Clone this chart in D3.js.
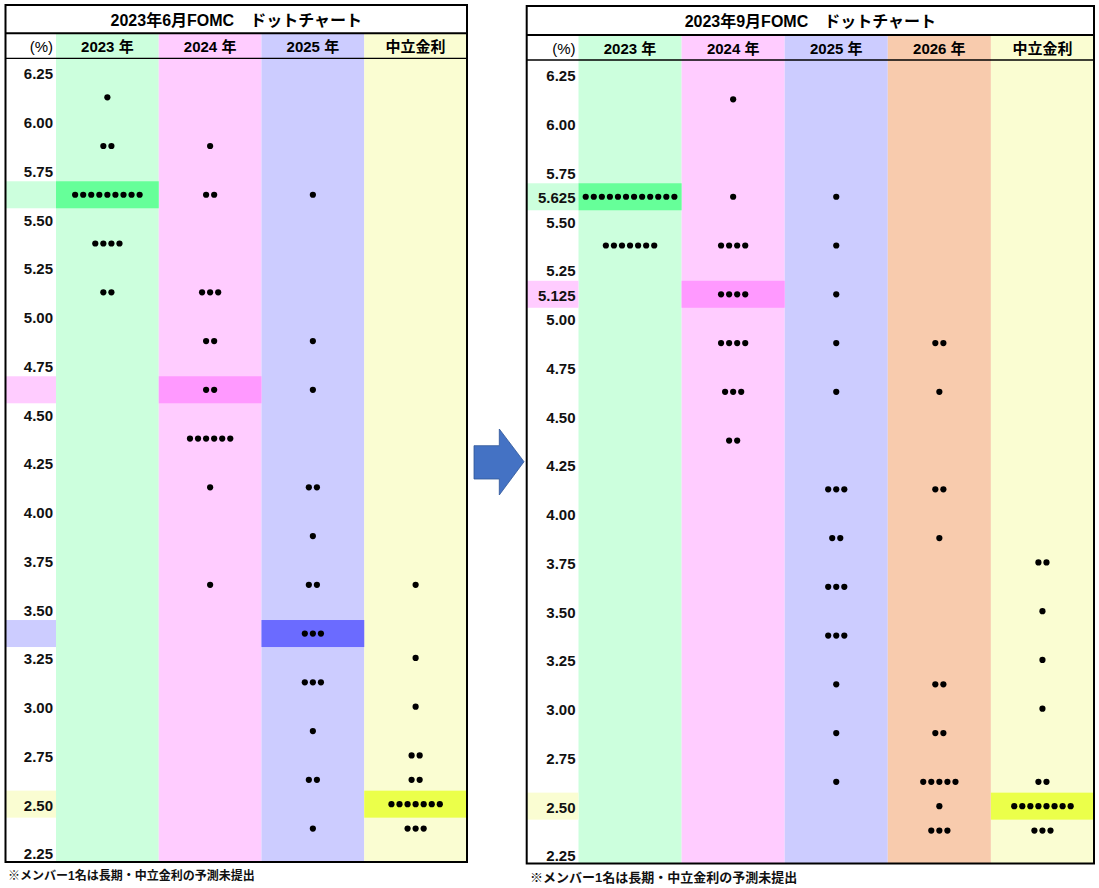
<!DOCTYPE html>
<html><head><meta charset="utf-8">
<script src="https://cdn.jsdelivr.net/npm/d3@7"></script>
<style>body{margin:0;background:#fff}svg{display:block}</style>
</head><body>
<svg id="c" width="1099" height="888"></svg>
<script>
// ---------- data ----------
const junTitle = "2023年6月FOMC\u3000ドットチャート";
const sepTitle = "2023年9月FOMC\u3000ドットチャート";
const footnote = "※メンバー1名は長期・中立金利の予測未提出";
const unitLabel = "(%)";
const tickValues = [6.25, 6.00, 5.75, 5.50, 5.25, 5.00, 4.75, 4.50, 4.25, 4.00, 3.75, 3.50, 3.25, 3.00, 2.75, 2.50, 2.25];

const junCats = ["2023 年", "2024 年", "2025 年", "中立金利"];
const jun2023 = [[6.125,1],[5.875,2],[5.625,9],[5.375,4],[5.125,2]];
const jun2024 = [[5.875,1],[5.625,2],[5.125,3],[4.875,2],[4.625,2],[4.375,6],[4.125,1],[3.625,1]];
const jun2025 = [[5.625,1],[4.875,1],[4.625,1],[4.125,2],[3.875,1],[3.625,2],[3.375,3],[3.125,3],[2.875,1],[2.625,2],[2.375,1]];
const junNeutral = [[3.625,1],[3.25,1],[3.0,1],[2.75,2],[2.625,2],[2.5,7],[2.375,3]];
const junMedians = [5.625, 4.625, 3.375, 2.5];
const junMedianLabels = [];

const sepCats = ["2023 年", "2024 年", "2025 年", "2026 年", "中立金利"];
const sep2023 = [[5.625,12],[5.375,7]];
const sep2024 = [[6.125,1],[5.625,1],[5.375,4],[5.125,4],[4.875,4],[4.625,3],[4.375,2]];
const sep2025 = [[5.625,1],[5.375,1],[5.125,1],[4.875,1],[4.625,1],[4.125,3],[3.875,2],[3.625,3],[3.375,3],[3.125,1],[2.875,1],[2.625,1]];
const sep2026 = [[4.875,2],[4.625,1],[4.125,2],[3.875,1],[3.125,2],[2.875,2],[2.625,5],[2.5,1],[2.375,3]];
const sepNeutral = [[3.75,2],[3.5,1],[3.25,1],[3.0,1],[2.625,2],[2.5,8],[2.375,3]];
const sepMedians = [5.625, 5.125, null, null, 2.5];
const sepMedianLabels = [5.625, 5.125];

// ---------- styles ----------
const palette = {
  "2023 年": {bg: "#CCFFDD", hi: "#66FF99"},
  "2024 年": {bg: "#FFCCFF", hi: "#FF99FF"},
  "2025 年": {bg: "#CCCCFF", hi: "#6B6BFF"},
  "2026 年": {bg: "#F8CBAD", hi: "#F4A070"},
  "中立金利": {bg: "#FAFDD2", hi: "#EBFF4A"}
};
const FONT = "'Liberation Sans','Noto Sans CJK JP',sans-serif";
const svg = d3.select("#c");

function drawPanel(p) {
  const g = svg.append("g");
  const x = d3.scaleBand().domain(p.cats).range([p.x0 + p.labelW, p.x1]).padding(0);
  const y = d3.scaleLinear().domain([6.25, 2.25]).range(p.yRange);
  const bw = x.bandwidth();
  const bandH = 27;

  // column backgrounds (header + body)
  g.selectAll("rect.col").data(p.cats).join("rect")
    .attr("x", d => x(d)).attr("y", p.ySep).attr("width", bw).attr("height", p.yBot - p.ySep)
    .attr("fill", d => palette[d].bg);

  // highlight bands (medians)
  p.cats.forEach((c, i) => {
    const m = p.medians[i];
    if (m == null) return;
    g.append("rect").attr("x", p.x0).attr("width", p.labelW)
      .attr("y", y(m) - bandH / 2).attr("height", bandH).attr("fill", palette[c].bg);
    g.append("rect").attr("x", x(c)).attr("width", bw)
      .attr("y", y(m) - bandH / 2).attr("height", bandH).attr("fill", palette[c].hi);
  });

  // lines
  g.append("line").attr("x1", p.x0).attr("x2", p.x1).attr("y1", p.ySep).attr("y2", p.ySep)
    .attr("stroke", "#000").attr("stroke-width", 2);
  g.append("line").attr("x1", p.x0).attr("x2", p.x1).attr("y1", p.yHead).attr("y2", p.yHead)
    .attr("stroke", "#000").attr("stroke-width", 1.3);

  // title
  g.append("text").attr("x", (p.x0 + p.x1) / 2).attr("y", (p.yTop + p.ySep) / 2 + 1)
    .attr("text-anchor", "middle").attr("dominant-baseline", "central")
    .attr("font-family", FONT).attr("font-weight", "bold").attr("font-size", 16)
    .text(p.title);

  // header
  g.selectAll("text.hd").data(p.cats).join("text")
    .attr("x", d => x(d) + bw / 2).attr("y", (p.ySep + p.yHead) / 2 + 1)
    .attr("text-anchor", "middle").attr("dominant-baseline", "central")
    .attr("font-family", FONT).attr("font-weight", "bold").attr("font-size", 15)
    .text(d => d);
  g.append("text").attr("x", p.x0 + p.labelW - 3).attr("y", (p.ySep + p.yHead) / 2 + 1)
    .attr("text-anchor", "end").attr("dominant-baseline", "central")
    .attr("font-family", FONT).attr("font-size", 15).text(unitLabel);

  // tick labels
  const labs = tickValues.map(v => ({v, f: d3.format(".2f")(v)}))
    .concat(p.medianLabels.map(v => ({v, f: d3.format(".3f")(v)})));
  g.selectAll("text.tk").data(labs).join("text")
    .attr("x", p.x0 + p.labelW - 3).attr("y", d => y(d.v) + 1)
    .attr("text-anchor", "end").attr("dominant-baseline", "central")
    .attr("font-family", FONT).attr("font-weight", "bold").attr("font-size", 15)
    .attr("fill", "#111").text(d => d.f);

  // dots
  const step = 8.06;
  p.series.forEach((s, i) => {
    const c = p.cats[i];
    const pts = [];
    s.forEach(([rate, n]) => {
      for (let k = 0; k < n; k++) pts.push({cx: x(c) + bw / 2 + (k - (n - 1) / 2) * step, cy: y(rate)});
    });
    g.selectAll(null).data(pts).join("circle")
      .attr("cx", d => d.cx).attr("cy", d => d.cy).attr("r", 3.1).attr("fill", "#000");
  });

  // outer border
  g.append("rect").attr("x", p.x0).attr("y", p.yTop).attr("width", p.x1 - p.x0).attr("height", p.yBot - p.yTop)
    .attr("fill", "none").attr("stroke", "#000").attr("stroke-width", 2);

  // footnote
  g.append("text").attr("x", p.noteX).attr("y", p.noteY).attr("dominant-baseline", "central")
    .attr("font-family", FONT).attr("font-weight", "bold").attr("font-size", p.noteSize)
    .attr("fill", "#111").text(footnote);
}

drawPanel({
  x0: 5.5, x1: 467, labelW: 50.5, yTop: 5, ySep: 33.3, yHead: 58.3, yBot: 862,
  yRange: [72.9, 852.9], cats: junCats, series: [jun2023, jun2024, jun2025, junNeutral],
  medians: junMedians, medianLabels: junMedianLabels, title: junTitle,
  noteX: 8, noteY: 875.5, noteSize: 12
});
drawPanel({
  x0: 526.7, x1: 1094, labelW: 51.8, yTop: 6, ySep: 35, yHead: 60, yBot: 863.5,
  yRange: [74.9, 854.9], cats: sepCats, series: [sep2023, sep2024, sep2025, sep2026, sepNeutral],
  medians: sepMedians, medianLabels: sepMedianLabels, title: sepTitle,
  noteX: 530, noteY: 877.5, noteSize: 13
});

// arrow between panels
const arrow = d3.path();
arrow.moveTo(474, 445.7); arrow.lineTo(499.3, 445.7); arrow.lineTo(499.3, 429);
arrow.lineTo(524, 461.7); arrow.lineTo(499.3, 495); arrow.lineTo(499.3, 479);
arrow.lineTo(474, 479); arrow.closePath();
svg.append("path").attr("d", arrow.toString()).attr("fill", "#4472C4")
  .attr("stroke", "#2F5597").attr("stroke-width", 0.8);
</script>
</body></html>
